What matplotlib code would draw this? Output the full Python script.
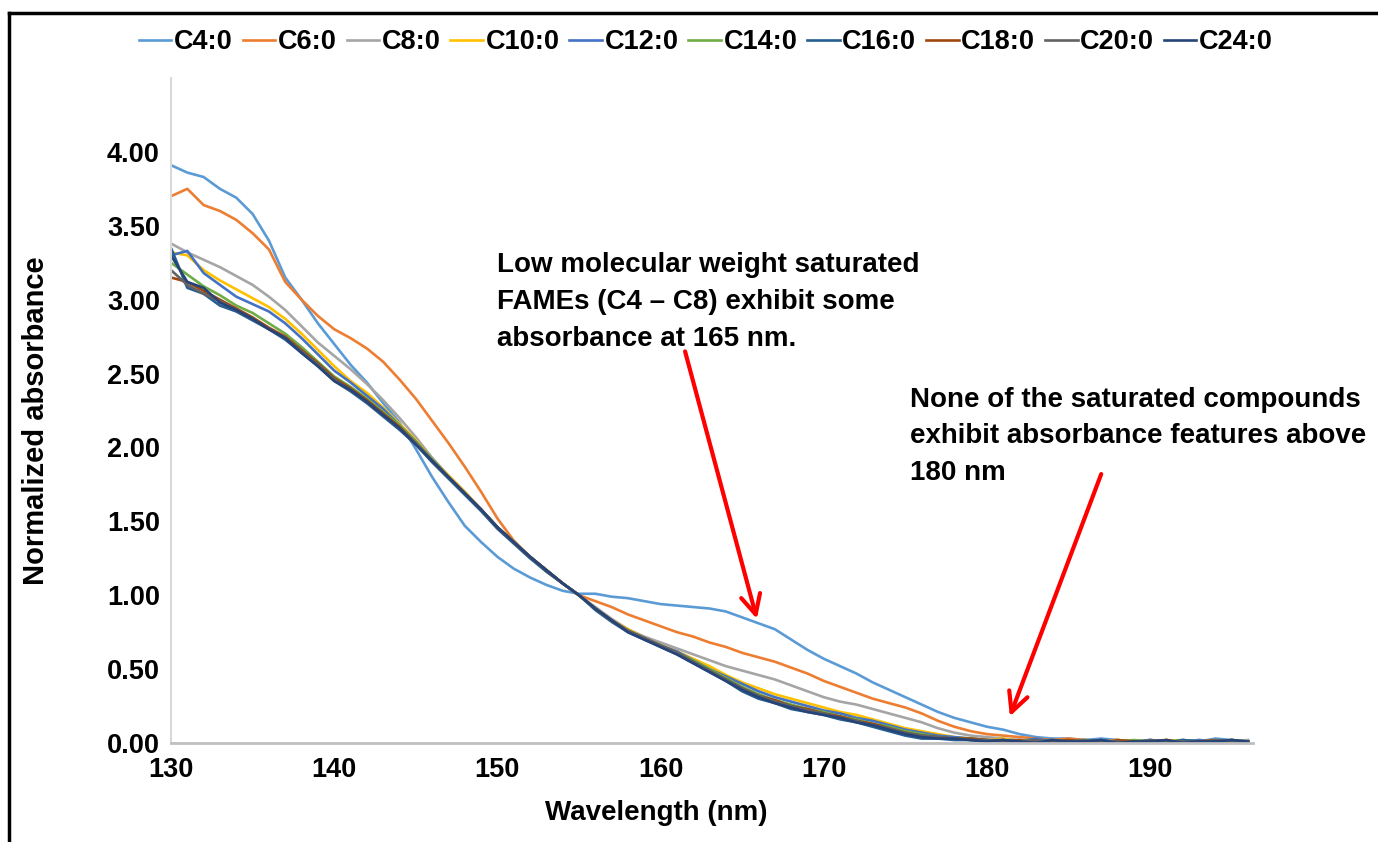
import numpy as np
import matplotlib
matplotlib.use("Agg")
import matplotlib.pyplot as plt
from matplotlib.lines import Line2D

plt.rcParams['font.family'] = ['Liberation Sans', 'DejaVu Sans']
plt.rcParams['font.weight'] = 'bold'

wavelength = list(range(130, 197))

series_names = ["C4:0", "C6:0", "C8:0", "C10:0", "C12:0",
                "C14:0", "C16:0", "C18:0", "C20:0", "C24:0"]
series_colors = ["#5B9BD5", "#ED7D31", "#A5A5A5", "#FFC000", "#4472C4",
                 "#70AD47", "#255E91", "#9E480E", "#636363", "#264478"]

c4 = [3.91, 3.86, 3.83, 3.75, 3.69, 3.58, 3.40, 3.15, 3.00, 2.84,
      2.70, 2.56, 2.44, 2.30, 2.17, 1.99, 1.80, 1.63, 1.47, 1.36,
      1.26, 1.18, 1.12, 1.07, 1.03, 1.01, 1.01, 0.99, 0.98, 0.96,
      0.94, 0.93, 0.92, 0.91, 0.89, 0.85, 0.81, 0.77, 0.70, 0.63,
      0.57, 0.52, 0.47, 0.41, 0.36, 0.31, 0.26, 0.21, 0.17, 0.14,
      0.11, 0.09, 0.06, 0.04, 0.03, 0.03, 0.02, 0.03, 0.02, 0.01,
      0.02, 0.01, 0.02, 0.01, 0.03, 0.02, 0.01]
c6 = [3.70, 3.75, 3.64, 3.60, 3.54, 3.45, 3.34, 3.12, 3.00, 2.89,
      2.80, 2.74, 2.67, 2.58, 2.46, 2.33, 2.18, 2.03, 1.87, 1.70,
      1.52, 1.37, 1.26, 1.16, 1.08, 1.00, 0.96, 0.92, 0.87, 0.83,
      0.79, 0.75, 0.72, 0.68, 0.65, 0.61, 0.58, 0.55, 0.51, 0.47,
      0.42, 0.38, 0.34, 0.30, 0.27, 0.24, 0.20, 0.15, 0.11, 0.08,
      0.06, 0.05, 0.04, 0.03, 0.02, 0.03, 0.02, 0.01, 0.02, 0.01,
      0.01, 0.02, 0.01, 0.00, 0.01, 0.02, 0.01]
c8 = [3.38, 3.32, 3.27, 3.22, 3.16, 3.10, 3.02, 2.93, 2.82, 2.71,
      2.62, 2.53, 2.43, 2.32, 2.20, 2.07, 1.93, 1.81, 1.70, 1.58,
      1.46, 1.36, 1.26, 1.17, 1.08, 1.00, 0.92, 0.84, 0.77, 0.72,
      0.68, 0.64, 0.60, 0.56, 0.52, 0.49, 0.46, 0.43, 0.39, 0.35,
      0.31, 0.28, 0.26, 0.23, 0.20, 0.17, 0.14, 0.10, 0.07, 0.05,
      0.04, 0.03, 0.02, 0.02, 0.01, 0.02, 0.01, 0.02, 0.01, 0.01,
      0.02, 0.01, 0.01, 0.02, 0.01, 0.01, 0.02]
c10 = [3.32, 3.30, 3.20, 3.13, 3.07, 3.01, 2.95, 2.87, 2.77, 2.66,
       2.55, 2.45, 2.37, 2.27, 2.16, 2.05, 1.92, 1.81, 1.70, 1.58,
       1.46, 1.36, 1.26, 1.17, 1.08, 1.00, 0.91, 0.83, 0.77, 0.71,
       0.66, 0.62, 0.57, 0.52, 0.46, 0.41, 0.37, 0.33, 0.30, 0.27,
       0.24, 0.21, 0.19, 0.16, 0.13, 0.10, 0.08, 0.06, 0.04, 0.03,
       0.02, 0.03, 0.01, 0.02, 0.01, 0.02, 0.01, 0.01, 0.02, 0.01,
       0.01, 0.02, 0.01, 0.01, 0.02, 0.01, 0.01]
c12 = [3.30, 3.33, 3.18, 3.10, 3.02, 2.97, 2.92, 2.84, 2.74, 2.63,
       2.52, 2.44, 2.35, 2.26, 2.15, 2.04, 1.92, 1.80, 1.69, 1.58,
       1.46, 1.36, 1.26, 1.17, 1.08, 1.00, 0.91, 0.83, 0.76, 0.71,
       0.66, 0.62, 0.56, 0.50, 0.45, 0.40, 0.35, 0.31, 0.28, 0.25,
       0.22, 0.20, 0.17, 0.15, 0.12, 0.09, 0.07, 0.05, 0.04, 0.03,
       0.02, 0.02, 0.01, 0.03, 0.01, 0.02, 0.01, 0.02, 0.01, 0.01,
       0.02, 0.01, 0.01, 0.02, 0.01, 0.02, 0.01]
c14 = [3.25, 3.17, 3.09, 3.03, 2.96, 2.91, 2.84, 2.77, 2.68, 2.58,
       2.48, 2.41, 2.33, 2.24, 2.15, 2.04, 1.92, 1.80, 1.69, 1.58,
       1.46, 1.36, 1.26, 1.17, 1.08, 1.00, 0.91, 0.83, 0.76, 0.71,
       0.66, 0.61, 0.56, 0.50, 0.44, 0.38, 0.33, 0.29, 0.26, 0.23,
       0.21, 0.18, 0.16, 0.13, 0.11, 0.08, 0.06, 0.04, 0.03, 0.03,
       0.02, 0.01, 0.02, 0.01, 0.02, 0.01, 0.02, 0.01, 0.01, 0.02,
       0.01, 0.01, 0.02, 0.01, 0.01, 0.02, 0.01]
c16 = [3.35, 3.08, 3.04, 2.96, 2.92, 2.86, 2.80, 2.73, 2.64, 2.55,
       2.45, 2.38, 2.30, 2.21, 2.12, 2.02, 1.90, 1.79, 1.68, 1.57,
       1.45, 1.35, 1.25, 1.16, 1.08, 1.00, 0.90, 0.82, 0.75, 0.70,
       0.65, 0.60, 0.54, 0.48, 0.42, 0.35, 0.30, 0.27, 0.23, 0.21,
       0.19, 0.16, 0.14, 0.11, 0.08, 0.05, 0.03, 0.03, 0.02, 0.02,
       0.01, 0.02, 0.00, 0.01, 0.02, 0.00, 0.01, 0.02, 0.00, 0.01,
       0.01, 0.00, 0.02, 0.01, 0.00, 0.02, 0.00]
c18 = [3.15, 3.12, 3.06, 3.00, 2.94, 2.88, 2.81, 2.75, 2.66, 2.57,
       2.47, 2.40, 2.32, 2.23, 2.14, 2.03, 1.91, 1.80, 1.69, 1.58,
       1.46, 1.36, 1.26, 1.17, 1.08, 1.00, 0.91, 0.83, 0.76, 0.71,
       0.66, 0.61, 0.55, 0.49, 0.43, 0.37, 0.32, 0.29, 0.25, 0.23,
       0.20, 0.18, 0.15, 0.13, 0.10, 0.07, 0.05, 0.04, 0.03, 0.03,
       0.02, 0.01, 0.02, 0.00, 0.01, 0.02, 0.01, 0.00, 0.02, 0.01,
       0.01, 0.02, 0.00, 0.01, 0.02, 0.01, 0.00]
c20 = [3.20, 3.10, 3.04, 2.99, 2.93, 2.87, 2.80, 2.74, 2.65, 2.56,
       2.46, 2.39, 2.31, 2.22, 2.13, 2.03, 1.91, 1.80, 1.69, 1.58,
       1.46, 1.36, 1.26, 1.17, 1.08, 1.00, 0.91, 0.83, 0.76, 0.71,
       0.66, 0.61, 0.55, 0.49, 0.43, 0.37, 0.32, 0.28, 0.25, 0.22,
       0.20, 0.17, 0.15, 0.12, 0.10, 0.07, 0.05, 0.04, 0.03, 0.02,
       0.02, 0.01, 0.01, 0.02, 0.00, 0.01, 0.02, 0.01, 0.01, 0.00,
       0.02, 0.01, 0.01, 0.00, 0.02, 0.01, 0.01]
c24 = [3.30, 3.12, 3.08, 2.98, 2.93, 2.87, 2.80, 2.74, 2.64, 2.55,
       2.45, 2.39, 2.31, 2.22, 2.13, 2.02, 1.91, 1.80, 1.69, 1.58,
       1.46, 1.36, 1.26, 1.17, 1.08, 1.00, 0.91, 0.83, 0.75, 0.70,
       0.65, 0.60, 0.54, 0.48, 0.42, 0.36, 0.31, 0.27, 0.24, 0.21,
       0.19, 0.17, 0.14, 0.12, 0.09, 0.06, 0.04, 0.03, 0.03, 0.02,
       0.01, 0.02, 0.01, 0.00, 0.02, 0.01, 0.01, 0.02, 0.00, 0.01,
       0.01, 0.02, 0.00, 0.01, 0.01, 0.02, 0.01]

series_values = [c4, c6, c8, c10, c12, c14, c16, c18, c20, c24]

y_ticks = [0.0, 0.5, 1.0, 1.5, 2.0, 2.5, 3.0, 3.5, 4.0]
x_ticks = [130, 140, 150, 160, 170, 180, 190]

note1 = "Low molecular weight saturated\nFAMEs (C4 \u2013 C8) exhibit some\nabsorbance at 165 nm."
note2 = "None of the saturated compounds\nexhibit absorbance features above\n180 nm"

W, H = 1378, 842
fig = plt.figure(figsize=(W / 100, H / 100), dpi=100)
ax = fig.add_axes([171 / W, (H - 743) / H, (1253 - 171) / W, (743 - 78) / H])

for name, vals, col in zip(series_names, series_values, series_colors):
    ax.plot(wavelength, vals, color=col, lw=1.9, label=name, solid_joinstyle='round')

ax.set_xlim(130, 196.3)
ax.set_ylim(0, 4.5)
ax.set_yticks(y_ticks)
ax.set_yticklabels([f"{v:.2f}" for v in y_ticks])
ax.set_xticks(x_ticks)
ax.set_xticklabels([str(v) for v in x_ticks])
ax.tick_params(axis='both', length=0, labelsize=19.5)
ax.tick_params(axis='y', pad=8)
ax.tick_params(axis='x', pad=10)
for s in ['top', 'right']:
    ax.spines[s].set_visible(False)
ax.spines['left'].set_color('#D9D9D9')
ax.spines['left'].set_linewidth(1.5)
ax.spines['bottom'].set_color('#BFBFBF')
ax.spines['bottom'].set_linewidth(2.0)

fig.text(36 / W, 1 - 421 / H, "Normalized absorbance", rotation=90,
         ha='center', va='center', fontsize=21, fontweight='bold')
fig.text(656 / W, 1 - 813 / H, "Wavelength (nm)", ha='center', va='center',
         fontsize=20, fontweight='bold')

ax.text(150.0, 3.32, note1, ha='left', va='top', fontsize=20, fontweight='bold',
        linespacing=1.53)
ax.text(175.3, 2.41, note2, ha='left', va='top', fontsize=20, fontweight='bold',
        linespacing=1.53)

ax.annotate("", xy=(165.9, 0.84), xytext=(161.5, 2.65),
            arrowprops=dict(arrowstyle='->', color='#FF0000', lw=3, mutation_scale=35,
                            shrinkA=0, shrinkB=0))
ax.annotate("", xy=(181.4, 0.18), xytext=(187.0, 1.82),
            arrowprops=dict(arrowstyle='->', color='#FF0000', lw=3, mutation_scale=35,
                            shrinkA=0, shrinkB=0))

handles, labels = ax.get_legend_handles_labels()
fig.legend(handles, labels, loc='center', bbox_to_anchor=(706 / W, 1 - 42 / H),
           ncol=10, frameon=False, fontsize=19.5, handlelength=1.2,
           handletextpad=0.1, columnspacing=0.36, borderpad=0, borderaxespad=0)

fig.add_artist(Line2D([9 / W, 9 / W], [0, 1 - 13 / H], color='black', lw=2.5,
                      transform=fig.transFigure))
fig.add_artist(Line2D([9 / W, 1], [1 - 13 / H, 1 - 13 / H], color='black', lw=2.5,
                      transform=fig.transFigure))

fig.savefig("out.png", dpi=100, facecolor='white')
